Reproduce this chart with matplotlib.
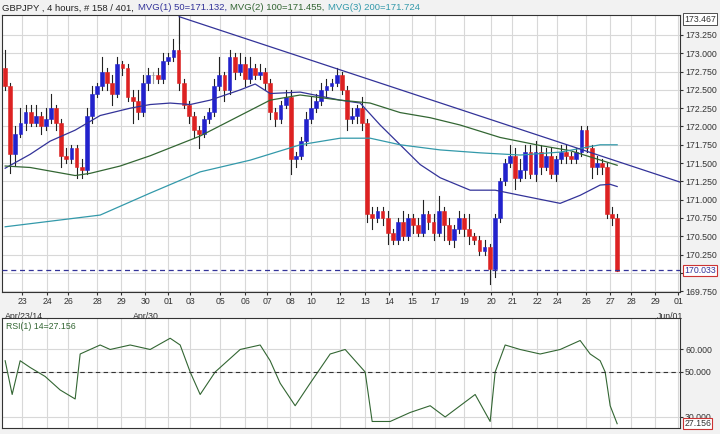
import matplotlib
matplotlib.use('Agg')
import matplotlib.pyplot as plt
from matplotlib.patches import Rectangle

plt.rcParams['font.family'] = ['Liberation Sans', 'DejaVu Sans']

SP = 5.1  # pixel spacing of one candle in the original


def px(x):
    return (x - 5) / SP


closes = [172.55, 171.62, 171.90, 172.05, 172.20, 172.05, 172.15, 172.00, 172.10, 172.25,
          172.05, 171.60, 171.55, 171.70, 171.45, 171.40, 172.15, 172.45, 172.55, 172.75,
          172.60, 172.45, 172.85, 172.80, 172.40, 172.35, 172.20, 172.60, 172.70, 172.70,
          172.65, 172.90, 172.95, 173.05, 172.60, 172.30, 172.15, 171.95, 171.90, 172.10,
          172.20, 172.55, 172.70, 172.50, 172.95, 172.75, 172.85, 172.65, 172.80, 172.70,
          172.75, 172.60, 172.20, 172.10, 172.30, 172.40, 171.55, 171.60, 171.80, 172.10,
          172.25, 172.35, 172.50, 172.55, 172.60, 172.70, 172.50, 172.10, 172.15, 172.25,
          172.05, 170.80, 170.75, 170.85, 170.75, 170.55, 170.45, 170.70, 170.50, 170.75,
          170.65, 170.55, 170.80, 170.70, 170.55, 170.85, 170.65, 170.45, 170.60, 170.75,
          170.60, 170.50, 170.45, 170.30, 170.35, 170.05, 170.75, 171.25, 171.50, 171.60,
          171.30, 171.40, 171.65, 171.35, 171.65, 171.45, 171.60, 171.35, 171.55, 171.65,
          171.60, 171.55, 171.65, 171.95, 171.70, 171.45, 171.50, 171.45, 170.80, 170.75,
          170.03]
first_open = 172.80
up_wick = [0.25, 0.05, 0.10, 0.20, 0.10, 0.10, 0.15, 0.05, 0.15, 0.20,
           0.05, 0.05, 0.10, 0.05, 0.05, 0.10, 0.10, 0.10, 0.05, 0.20,
           0.05, 0.10, 0.10, 0.05, 0.05, 0.10, 0.15, 0.10, 0.10, 0.05,
           0.10, 0.10, 0.05, 0.15, 0.45, 0.05, 0.05, 0.05, 0.05, 0.05,
           0.05, 0.10, 0.25, 0.05, 0.10, 0.05, 0.15, 0.10, 0.15, 0.05,
           0.10, 0.05, 0.05, 0.05, 0.05, 0.10, 0.10, 0.05, 0.05, 0.10,
           0.15, 0.10, 0.10, 0.10, 0.05, 0.10, 0.05, 0.05, 0.10, 0.05,
           0.15, 0.05, 0.10, 0.05, 0.05, 0.10, 0.05, 0.05, 0.15, 0.05,
           0.05, 0.10, 0.20, 0.05, 0.10, 0.20, 0.05, 0.10, 0.05, 0.10,
           0.05, 0.20, 0.05, 0.05, 0.10, 0.05, 0.05, 0.05, 0.05, 0.15,
           0.10, 0.15, 0.10, 0.10, 0.15, 0.10, 0.10, 0.10, 0.05, 0.10,
           0.10, 0.05, 0.05, 0.05, 0.05, 0.05, 0.10, 0.05, 0.05, 0.10,
           0.05]
lo_wick = [0.05, 0.25, 0.15, 0.05, 0.10, 0.05, 0.05, 0.10, 0.05, 0.05,
           0.10, 0.15, 0.05, 0.05, 0.15, 0.10, 0.05, 0.10, 0.05, 0.05,
           0.10, 0.15, 0.05, 0.10, 0.05, 0.30, 0.10, 0.05, 0.10, 0.10,
           0.05, 0.05, 0.05, 0.05, 0.10, 0.05, 0.10, 0.10, 0.20, 0.05,
           0.05, 0.05, 0.05, 0.15, 0.05, 0.10, 0.05, 0.10, 0.05, 0.05,
           0.05, 0.10, 0.10, 0.10, 0.05, 0.05, 0.20, 0.10, 0.05, 0.05,
           0.05, 0.05, 0.05, 0.10, 0.05, 0.05, 0.05, 0.15, 0.05, 0.10,
           0.10, 0.10, 0.15, 0.05, 0.10, 0.15, 0.05, 0.05, 0.05, 0.05,
           0.10, 0.05, 0.05, 0.10, 0.10, 0.05, 0.20, 0.05, 0.10, 0.05,
           0.10, 0.10, 0.05, 0.05, 0.05, 0.20, 0.10, 0.05, 0.05, 0.05,
           0.15, 0.05, 0.10, 0.05, 0.10, 0.10, 0.05, 0.05, 0.10, 0.05,
           0.10, 0.05, 0.05, 0.05, 0.05, 0.15, 0.10, 0.10, 0.05, 0.10,
           0.00]

ma50_x = [5, 30, 50, 75, 100, 130, 150, 170, 190, 210, 240, 255, 270, 300, 340, 360, 380,
          400, 420, 440, 470, 495, 520, 560, 580, 600, 610, 617]
ma50_y = [171.43, 171.62, 171.80, 171.95, 172.15, 172.25, 172.30, 172.32, 172.30, 172.36,
          172.50, 172.58, 172.45, 172.47, 172.36, 172.32, 172.02, 171.75, 171.48, 171.30,
          171.13, 171.13, 171.06, 170.95, 171.06, 171.20, 171.21, 171.18]
ma100_x = [5, 30, 75, 90, 120, 150, 200, 240, 270, 300, 340, 370, 400, 430, 460, 500,
           540, 570, 617]
ma100_y = [171.46, 171.44, 171.33, 171.36, 171.46, 171.60, 171.87, 172.15, 172.36, 172.43,
           172.36, 172.32, 172.19, 172.12, 172.02, 171.85, 171.74, 171.67, 171.47]
ma200_x = [5, 100, 150, 200, 250, 300, 340, 370, 400, 440, 480, 520, 560, 600, 617]
ma200_y = [170.63, 170.79, 171.09, 171.38, 171.54, 171.75, 171.84, 171.84, 171.75, 171.68,
           171.64, 171.61, 171.65, 171.75, 171.75]

rsi_x = [5, 12, 20, 30, 45, 60, 75, 80, 100, 110, 130, 150, 170, 180, 190, 200, 215,
         240, 260, 270, 280, 295, 310, 330, 345, 355, 365, 372, 390, 410, 430, 445, 460,
         475, 485, 490, 495, 505, 520, 540, 560, 580, 590, 600, 605, 610, 617]
rsi_y = [55, 40, 55, 52, 48, 42, 38, 58, 62, 60, 62, 60, 65, 62, 50, 40, 50,
         60, 62, 55, 45, 35, 45, 58, 60, 55, 50, 28, 28, 32, 35, 30, 35,
         40, 32, 28, 50, 62, 60, 58, 60, 64, 58, 55, 50, 35, 27]

tick_px = [22, 47, 68, 97, 121, 145, 168, 190, 220, 245, 267, 290, 311, 340, 365, 389,
           412, 435, 464, 491, 512, 537, 557, 586, 610, 631, 655, 678]
tick_lbl = ['23', '24', '26', '28', '29', '30', '01', '03', '05', '06', '07', '08', '10',
            '12', '13', '14', '15', '17', '19', '20', '21', '22', '24', '26', '27', '28',
            '29', '01']
month_px = [5, 133, 657]
month_lbl = ['Apr/23/14', 'Apr/30', 'Jun/01']

trend_px = [179, 680]
trend_y = [173.50, 171.24]
last_price = 170.033
top_price = 173.467
rsi_last = 27.156

header = ['GBPJPY , 4 hours, # 158 / 401, ', 'MVG(1) 50=171.132, ',
          'MVG(2) 100=171.455, ', 'MVG(3) 200=171.724']
header_col = ['#222222', '#333399', '#336633', '#3399aa']

fig = plt.figure(figsize=(7.2, 4.34), dpi=100, facecolor='#f2f2f2')
ax = fig.add_axes([0.003, 1 - 292 / 434, 678 / 720, 277 / 434])
ax2 = fig.add_axes([0.003, 1 - 428 / 434, 678 / 720, 110 / 434])

xmin, xmax = px(2), px(680)
xt = [px(t) for t in tick_px]
for a in (ax, ax2):
    a.set_facecolor('white')
    a.set_xlim(xmin, xmax)
    a.set_xticks(xt)
    a.grid(True, color='#d8d8d8', lw=0.8)
    a.set_axisbelow(True)
    a.yaxis.tick_right()
    a.tick_params(labelsize=6.3, length=2, pad=1.5, colors='#333333')
    for s in a.spines.values():
        s.set_color('#333333')

# candles
prev = first_open
for i, c in enumerate(closes):
    o = prev
    hi = max(o, c) + up_wick[i]
    lo = min(o, c) - lo_wick[i]
    if abs(c - o) < 0.03:
        col = '#999999'
    elif c > o:
        col = '#2222cc'
    else:
        col = '#dd2222'
    ax.plot([i, i], [lo, hi], color='#222222' if col != '#999999' else '#999999', lw=0.8, zorder=3)
    ax.add_patch(Rectangle((i - 0.38, min(o, c)), 0.76, max(abs(c - o), 0.01),
                           facecolor=col, edgecolor=col, lw=0.4, zorder=4))
    prev = c

ax.plot([px(x) for x in ma50_x], ma50_y, color='#333399', lw=0.9, zorder=5)
ax.plot([px(x) for x in ma100_x], ma100_y, color='#336633', lw=0.9, zorder=5)
ax.plot([px(x) for x in ma200_x], ma200_y, color='#3399aa', lw=0.9, zorder=5)
ax.plot([px(x) for x in trend_px], trend_y, color='#333399', lw=0.9, zorder=5)
ax.axvline(px(179), ymin=0.9, color='#333333', lw=0.8)
ax.axhline(last_price, color='#333399', lw=0.9, ls=(0, (4, 3)), zorder=5)

ax.set_ylim(169.739, 173.523)
yt = [169.75 + 0.25 * k for k in range(15)]
ax.set_yticks(yt)
# 170.000 is hidden behind the last-price box in the original
ax.set_yticklabels(['' if abs(v - 170.0) < 1e-6 else '%.3f' % v for v in yt])
ax.set_xticklabels(tick_lbl)
for p_, l_ in zip(month_px, month_lbl):
    ax.text(px(p_), 169.739 - 0.27, l_, fontsize=6.3, ha='left', va='top', color='#333333')
ax.text(xmax + 0.8, last_price, '%.3f' % last_price, fontsize=6.3, va='center', color='#333399',
        zorder=10, bbox=dict(facecolor='white', edgecolor='#cc3333', pad=0.8, lw=0.8))
ax.text(xmax + 0.8, top_price, '%.3f' % top_price, fontsize=6.3, va='center', color='#333333',
        zorder=10, bbox=dict(facecolor='white', edgecolor='#333333', pad=0.8, lw=0.6))

ax2.plot([px(x) for x in rsi_x], rsi_y, color='#336633', lw=0.8)
ax2.axhline(50, color='#333333', lw=0.8, ls=(0, (4, 3)))
ax2.set_ylim(25.1, 74)
ax2.set_yticks([30, 50, 60])
ax2.set_yticklabels(['30.000', '50.000', '60.000'])
ax2.set_xticklabels([])
ax2.tick_params(axis='x', length=0)
ax2.text(px(6), 72, 'RSI(1) 14=27.156', fontsize=6.3, va='top', color='#336633')
ax2.text(xmax + 0.8, rsi_last, '%.3f' % rsi_last, fontsize=6.3, va='center', color='#333333',
         zorder=10, bbox=dict(facecolor='white', edgecolor='#cc3333', pad=0.8, lw=0.8))

# header: pieces placed one after another
r = fig.canvas.get_renderer()
xpos = 2
for s, c in zip(header, header_col):
    t = fig.text(xpos / 720, 0.992, s, fontsize=6.8, va='top', color=c)
    xpos += t.get_window_extent(r).width + 1

fig.savefig('out.png', dpi=100, facecolor=fig.get_facecolor())
